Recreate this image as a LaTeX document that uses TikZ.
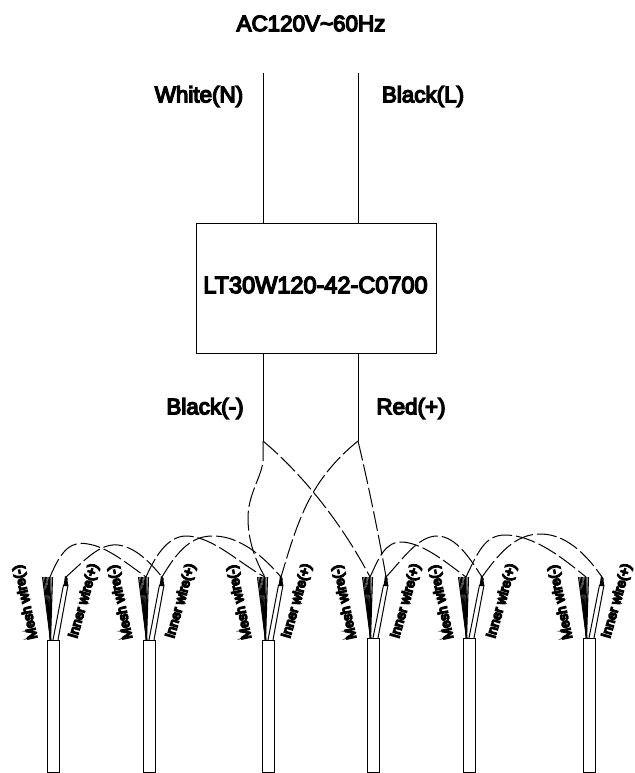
\documentclass[tikz,border=0pt]{standalone}
\usepackage{fontspec}
\setmainfont[FakeBold=6]{Liberation Sans}
\newfontfamily\smallbold[FakeBold=11]{Liberation Sans}
\begin{document}
\begin{tikzpicture}[x=1pt,y=-1pt,
  lbl/.style={inner sep=0pt,font=\fontsize{22.4}{24}\selectfont},
  small/.style={inner sep=0pt,font=\smallbold\fontsize{13.6}{15}\selectfont},
  wire/.style={line width=1pt,black},
  dwire/.style={line width=1pt,black,dash pattern=on 20pt off 4pt},
  cable/.style={draw=black,line width=1pt,fill=white,minimum width=12pt,inner sep=0pt}]
\useasboundingbox (0,0) rectangle (634,773);
\node[lbl] (title) at (311,23.5) {AC120V\char`~60Hz};
\node[lbl] (white) at (199,96.5) {White(N)};
\node[lbl] (blackL) at (423,96.5) {Black(L)};
\node[lbl] (blackM) at (205,408.5) {Black(-)};
\node[lbl] (redP) at (411,408.5) {Red(+)};
\node[draw=black,line width=1pt,minimum width=240pt,minimum height=130pt,inner sep=0pt] (box) at (316,288) {};
\node[inner sep=0pt,font=\fontsize{23.5}{25}\selectfont] (boxt) at (315.5,285) {LT30W120-42-C0700};
\coordinate (inN) at (263,73);
\coordinate (inL) at (358,73);
\coordinate (outN) at (263,441);
\coordinate (outP) at (358,441);
\draw[wire] (inN) -- (inN |- box.north);
\draw[wire] (inL) -- (inL |- box.north);
\draw[wire] (inN |- box.south) -- (outN);
\draw[wire] (inL |- box.south) -- (outP);
% cables: index / x / top / mesh-label offset / inner-label offset
\foreach \i/\x/\t/\m/\n in {1/47/640/-21/37,2/143/640/-22/38,3/262/640/-22/35,4/367/638/-22/39,5/463/638/-21/39,6/583/638/-22/34}{
  \node[small,rotate=102] (ml\i) at (\x+\m,602) {Mesh wire(-)};
  \node[small,rotate=74] (il\i) at (\x+\n,601) {Inner wire(+)};
  \foreach \d in {-5,-3.6,-2.2,-0.8,0.6,2,3.4,5}
    \draw[black,line width=1.1pt] (\x+3.5,\t) -- (\x+\d+0.5,577);
  \draw[wire,fill=white] (\x+6,\t) -- (\x+16.5,585) -- (\x+21,585) -- (\x+11,\t);
  \fill[black] (\x+16.5,586) -- (\x+21,586) -- (\x+20.5,578) -- (\x+18,576) -- cycle;
  \coordinate (m\i) at (\x+3,577);
  \coordinate (n\i) at (\x+19,577);
  \draw[cable] (\x,\t) rectangle (\x+12,772);
}
% dashed links between cables
\draw[dwire] (m1) .. controls (62,548) and (72,541) .. (88,544) .. controls (107,547) and (125,562) .. (m2);
\draw[dwire] (n1) .. controls (85,560) and (100,543) .. (118,545) .. controls (135,547) and (150,562) .. (n2);
\draw[dwire] (m2) .. controls (157,552) and (170,535) .. (188,536) .. controls (215,538) and (240,564) .. (m3);
\draw[dwire] (n2) .. controls (178,550) and (192,535) .. (215,536) .. controls (240,537) and (262,555) .. (n3);
\draw[dwire] (m4) .. controls (379,558) and (385,541) .. (403,542) .. controls (425,544) and (448,564) .. (m5);
\draw[dwire] (n4) .. controls (402,560) and (418,536) .. (437,536) .. controls (457,536) and (472,562) .. (n5);
\draw[dwire] (m5) .. controls (478,552) and (485,535) .. (505,535) .. controls (535,535) and (565,560) .. (m6);
\draw[dwire] (n5) .. controls (498,555) and (515,533) .. (542,534) .. controls (570,535) and (590,560) .. (n6);
% dashed links from the driver
\draw[dwire] (outN) -- (263,462) .. controls (260,480) and (248,495) .. (248,518) .. controls (248,540) and (255,560) .. (m3);
\draw[dwire] (outN) .. controls (300,472) and (340,520) .. (m4);
\draw[dwire] (outP) .. controls (310,480) and (298,520) .. (n3);
\draw[dwire] (outP) .. controls (365,470) and (378,530) .. (n4);
\end{tikzpicture}
\end{document}
